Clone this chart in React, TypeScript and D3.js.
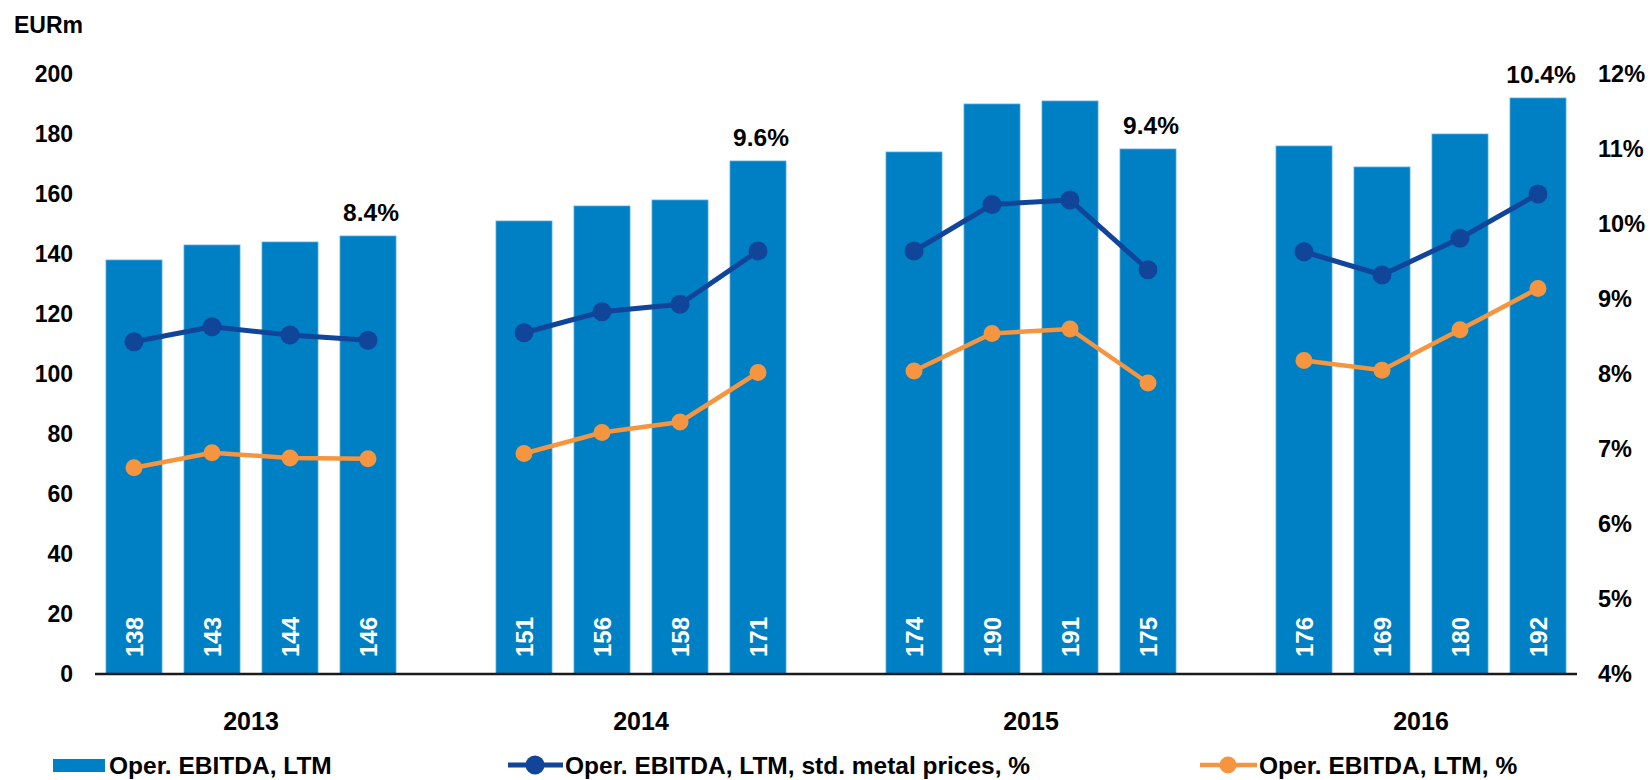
import React from "react";
import * as d3 from "d3";

const years = ["2013", "2014", "2015", "2016"];
const quarters = ["Q1", "Q2", "Q3", "Q4"];
const ebitda = [138, 143, 144, 146, 151, 156, 158, 171, 174, 190, 191, 175, 176, 169, 180, 192];
const stdMetalPct = [8.43, 8.63, 8.52, 8.45, 8.55, 8.83, 8.93, 9.64, 9.64, 10.26, 10.32, 9.39, 9.63, 9.32, 9.81, 10.4];
const ebitdaPct = [6.75, 6.95, 6.88, 6.87, 6.94, 7.22, 7.36, 8.02, 8.04, 8.54, 8.6, 7.88, 8.18, 8.05, 8.59, 9.14];
const yearEndLabels = ["8.4%", "9.6%", "9.4%", "10.4%"];
const leftTicks = [0, 20, 40, 60, 80, 100, 120, 140, 160, 180, 200];
const rightTicks = [4, 5, 6, 7, 8, 9, 10, 11, 12];
const legendLabels = [
  "Oper. EBITDA, LTM",
  "Oper. EBITDA, LTM, std. metal prices, %",
  "Oper. EBITDA, LTM, %",
];

const BAR = "#0080c4";
const NAVY = "#10459a";
const ORANGE = "#f5953f";
const FONT = "'Liberation Sans', Arial, sans-serif";

type Point = { key: string; year: number; value: number; std: number; pct: number };

// slot keys with an empty slot between the years
const slots: string[] = [];
const points: Point[] = [];
years.forEach((yr, yi) => {
  quarters.forEach((q, qi) => {
    const i = yi * 4 + qi;
    const key = `${yr}-${q}`;
    slots.push(key);
    points.push({ key, year: yi, value: ebitda[i], std: stdMetalPct[i], pct: ebitdaPct[i] });
  });
  if (yi < years.length - 1) slots.push(`gap-${yr}`);
});

export default function App() {
  const width = 1650;
  const height = 780;
  const x0 = 95;
  const x1 = 1577;
  const yBase = 674;
  const yTop = 74;

  const x = d3
    .scaleBand<string>()
    .domain(slots)
    .range([x0, x1])
    .paddingInner(0.282)
    .paddingOuter(0.141);
  const y = d3.scaleLinear().domain([0, 200]).range([yBase, yTop]);
  const yr = d3.scaleLinear().domain([4, 12]).range([yBase, yTop]);

  const cx = (d: Point) => (x(d.key) as number) + x.bandwidth() / 2;

  const stdLine = d3
    .line<Point>()
    .x(cx)
    .y((d) => yr(d.std));
  const pctLine = d3
    .line<Point>()
    .x(cx)
    .y((d) => yr(d.pct));

  const groups = years.map((_, yi) => points.filter((p) => p.year === yi));

  return (
    <svg
      width={width}
      height={height}
      style={{ position: "absolute", left: 0, top: 0, background: "#fff" }}
      fontFamily={FONT}
      fontWeight="bold"
    >
      <text x={14} y={33} fontSize={23} fill="#000">
        EURm
      </text>

      {/* left axis */}
      {leftTicks.map((t) => (
        <text key={t} x={73} y={y(t)} dy="0.35em" textAnchor="end" fontSize={23} fill="#000">
          {t}
        </text>
      ))}

      {/* right axis */}
      {rightTicks.map((t) => (
        <text key={t} x={1598} y={yr(t)} dy="0.35em" textAnchor="start" fontSize={23.5} fill="#000">
          {t}%
        </text>
      ))}

      {/* bars */}
      {points.map((d) => (
        <rect
          key={d.key}
          x={x(d.key)}
          y={y(d.value)}
          width={x.bandwidth()}
          height={yBase - y(d.value)}
          fill={BAR}
          stroke="#5aa9dc"
          strokeWidth={0.8}
        />
      ))}

      {/* bar values */}
      {points.map((d) => (
        <text
          key={`v-${d.key}`}
          transform={`translate(${cx(d)},${yBase - 17}) rotate(-90)`}
          dy="0.36em"
          textAnchor="start"
          fontSize={24}
          fill="#fff"
        >
          {d.value}
        </text>
      ))}

      {/* baseline */}
      <line x1={x0} x2={x1} y1={yBase} y2={yBase} stroke="#1a1a1a" strokeWidth={2.5} />

      {/* lines per year */}
      {groups.map((g, gi) => (
        <g key={`l-${gi}`}>
          <path d={pctLine(g) || ""} fill="none" stroke={ORANGE} strokeWidth={4.5} />
          <path d={stdLine(g) || ""} fill="none" stroke={NAVY} strokeWidth={5} />
          {g.map((d) => (
            <circle key={`o-${d.key}`} cx={cx(d)} cy={yr(d.pct)} r={8.5} fill={ORANGE} />
          ))}
          {g.map((d) => (
            <circle key={`b-${d.key}`} cx={cx(d)} cy={yr(d.std)} r={9.5} fill={NAVY} />
          ))}
        </g>
      ))}

      {/* year-end labels */}
      {groups.map((g, gi) => {
        const last = g[g.length - 1];
        return (
          <text
            key={`e-${gi}`}
            x={cx(last) + 3}
            y={y(last.value) - 24}
            dy="0.35em"
            textAnchor="middle"
            fontSize={24.5}
            fill="#000"
          >
            {yearEndLabels[gi]}
          </text>
        );
      })}

      {/* year labels */}
      {groups.map((g, gi) => {
        const mid = (cx(g[0]) + cx(g[g.length - 1])) / 2;
        return (
          <text key={`y-${gi}`} x={mid} y={721} dy="0.35em" textAnchor="middle" fontSize={25} fill="#000">
            {years[gi]}
          </text>
        );
      })}

      {/* legend */}
      <g>
        <rect x={53} y={759} width={52} height={13} fill={BAR} />
        <text x={109} y={765} dy="0.35em" fontSize={24.5} fill="#000">
          {legendLabels[0]}
        </text>

        <line x1={508} x2={563} y1={765} y2={765} stroke={NAVY} strokeWidth={5} />
        <circle cx={535} cy={765} r={9.5} fill={NAVY} />
        <text x={565} y={765} dy="0.35em" fontSize={24.5} fill="#000">
          {legendLabels[1]}
        </text>

        <line x1={1200} x2={1257} y1={765} y2={765} stroke={ORANGE} strokeWidth={4.5} />
        <circle cx={1228} cy={765} r={8.5} fill={ORANGE} />
        <text x={1259} y={765} dy="0.35em" fontSize={24.5} fill="#000">
          {legendLabels[2]}
        </text>
      </g>
    </svg>
  );
}
